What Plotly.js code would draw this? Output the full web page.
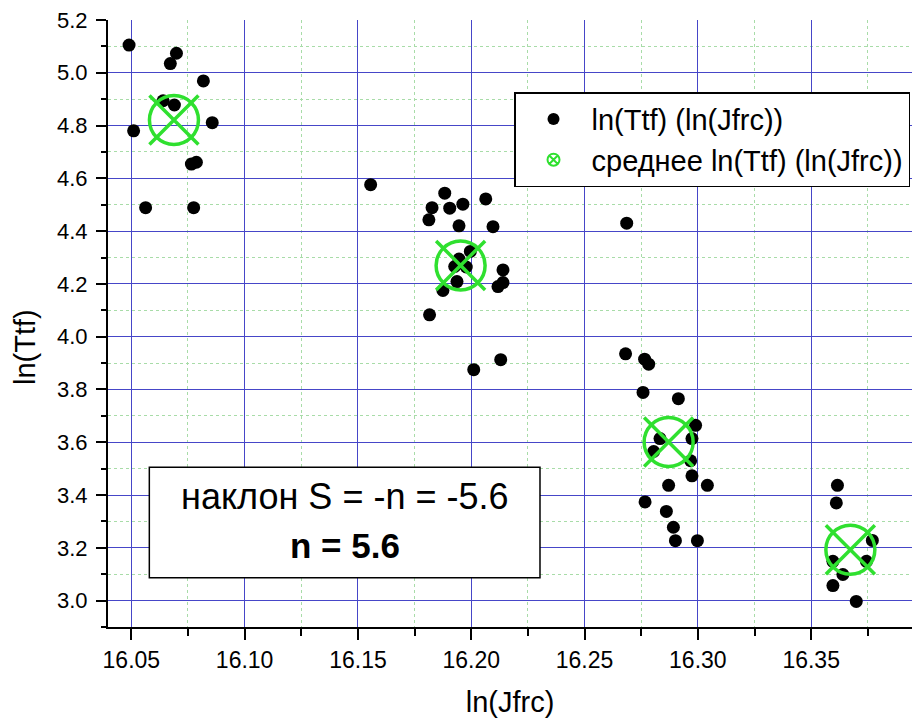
<!DOCTYPE html>
<html>
<head>
<meta charset="utf-8">
<script src="https://cdn.plot.ly/plotly-3.0.1.min.js"></script>
<style>html,body{margin:0;padding:0;background:#fff;}#chart{width:919px;height:719px;}</style>
</head>
<body>
<div id="chart"></div>
<script>
// ln(Jfrc) and ln(Ttf) of individual samples
const pointsX = [
  16.049, 16.0699, 16.0672, 16.0818, 16.064, 16.069, 16.0857, 16.051, 16.0765, 16.0787, 16.0563, 16.0775,
  16.1556,
  16.1883, 16.2064, 16.1827, 16.1905, 16.1963, 16.1813, 16.1946, 16.2096, 16.1996, 16.1946, 16.1927, 16.1978,
  16.214, 16.1937, 16.214, 16.2118, 16.1875, 16.1816, 16.2011, 16.213,
  16.2686, 16.2681, 16.2765, 16.2783, 16.2758, 16.2914, 16.299, 16.2974, 16.2833, 16.2805, 16.2968, 16.2974,
  16.2871, 16.3042, 16.2767, 16.2861, 16.2892, 16.2901, 16.2998,
  16.3616, 16.3611, 16.377, 16.3744, 16.3596, 16.364, 16.3596, 16.3699
];
const pointsY = [
  5.105, 5.074, 5.035, 4.969, 4.894, 4.878, 4.811, 4.780, 4.654, 4.661, 4.489, 4.489,
  4.576,
  4.544, 4.522, 4.489, 4.487, 4.502, 4.443, 4.420, 4.417, 4.323, 4.294, 4.266, 4.264,
  4.253, 4.209, 4.205, 4.190, 4.175, 4.083, 3.875, 3.913,
  4.430, 3.935, 3.915, 3.896, 3.789, 3.765, 3.664, 3.614, 3.614, 3.565, 3.530, 3.473,
  3.437, 3.437, 3.374, 3.338, 3.278, 3.227, 3.227,
  3.437, 3.370, 3.228, 3.149, 3.149, 3.099, 3.057, 2.997
];
// group means
const meanX = [16.0688, 16.1953, 16.2871, 16.3673];
const meanY = [4.821, 4.270, 3.601, 3.193];

const seriesNames = ['ln(Ttf) (ln(Jfrc))', 'среднее ln(Ttf) (ln(Jfrc))'];
const xTitle = 'ln(Jfrc)';
const yTitle = 'ln(Ttf)';
const boxLine1 = 'наклон S = -n = -5.6';
const boxLine2 = '<b>n = 5.6</b>';

const FONT = 'Arial, "Liberation Sans", sans-serif';
const GREEN = '#2fe02f';

const traces = [
  {
    x: pointsX, y: pointsY, type: 'scatter', mode: 'markers',
    name: seriesNames[0],
    marker: {symbol: 'circle', size: 13, color: '#000'}
  },
  {
    x: meanX, y: meanY, type: 'scatter', mode: 'markers',
    showlegend: false, hoverinfo: 'skip',
    marker: {symbol: 'circle-open', size: 49, color: GREEN, line: {color: GREEN, width: 3.5}}
  },
  {
    x: meanX, y: meanY, type: 'scatter', mode: 'markers',
    showlegend: false,
    marker: {symbol: 'x-thin-open', size: 49, color: GREEN, line: {color: GREEN, width: 3.5}}
  },
  {
    x: [null], y: [null], type: 'scatter', mode: 'markers',
    name: seriesNames[1],
    marker: {symbol: 'circle-x-open', size: 12, color: GREEN, line: {color: GREEN, width: 1.5}}
  }
];

const layout = {
  width: 919, height: 719,
  margin: {l: 108, r: 7, t: 20, b: 92, pad: 0},
  paper_bgcolor: '#fff', plot_bgcolor: '#fff',
  font: {family: FONT, color: '#000'},
  showlegend: true,
  legend: {
    x: 0.505, xanchor: 'left', y: 0.881, yanchor: 'top',
    bgcolor: '#fff', bordercolor: '#000', borderwidth: 1.5,
    font: {family: FONT, size: 29, color: '#000'},
    itemsizing: 'constant', itemwidth: 66, tracegroupgap: 0
  },
  xaxis: {
    range: [16.0397, 16.3945],
    tick0: 16.05, dtick: 0.05, tickformat: '.2f',
    ticks: 'outside', ticklen: 11, tickwidth: 2, tickcolor: '#000',
    showline: true, linecolor: '#000', linewidth: 2, mirror: false,
    showgrid: true, gridcolor: '#4646c8', gridwidth: 1,
    zeroline: false,
    minor: {dtick: 0.025, tick0: 16.05, ticks: 'outside', ticklen: 7, tickwidth: 2, tickcolor: '#000',
            showgrid: true, gridcolor: '#a8dca8', griddash: 'dot', gridwidth: 1},
    tickfont: {family: FONT, size: 23, color: '#000'},
    title: {text: xTitle, font: {family: FONT, size: 29, color: '#000'}, standoff: 20}
  },
  yaxis: {
    range: [2.9, 5.2],
    tick0: 3.0, dtick: 0.2, tickformat: '.1f',
    ticks: 'outside', ticklen: 10, tickwidth: 2, tickcolor: '#000',
    showline: true, linecolor: '#000', linewidth: 2, mirror: false,
    showgrid: true, gridcolor: '#4646c8', gridwidth: 1,
    zeroline: false, ticklabelstandoff: 4,
    minor: {dtick: 0.1, tick0: 3.0, ticks: 'outside', ticklen: 5, tickwidth: 2, tickcolor: '#000',
            showgrid: true, gridcolor: '#a8dca8', griddash: 'dot', gridwidth: 1},
    tickfont: {family: FONT, size: 22, color: '#000'}
  },
  shapes: [
    {type: 'rect', xref: 'paper', yref: 'paper', x0: 0.0514, x1: 0.5373, y0: 0.0812, y1: 0.2631,
     line: {color: '#000', width: 1.5}, fillcolor: '#fff', layer: 'above'}
  ],
  annotations: [
    {xref: 'paper', yref: 'paper', x: -0.1032, y: 0.4613, xanchor: 'center', yanchor: 'middle',
     text: yTitle, textangle: -90, showarrow: false, font: {family: FONT, size: 29, color: '#000'}},
    {xref: 'paper', yref: 'paper', x: 0.2944, y: 0.2147, xanchor: 'center', yanchor: 'middle',
     text: boxLine1, showarrow: false, font: {family: FONT, size: 36, color: '#000'}},
    {xref: 'paper', yref: 'paper', x: 0.2944, y: 0.1339, xanchor: 'center', yanchor: 'middle',
     text: boxLine2, showarrow: false, font: {family: FONT, size: 35, color: '#000'}}
  ]
};

Plotly.newPlot('chart', traces, layout, {displayModeBar: false, staticPlot: true});
</script>
</body>
</html>
